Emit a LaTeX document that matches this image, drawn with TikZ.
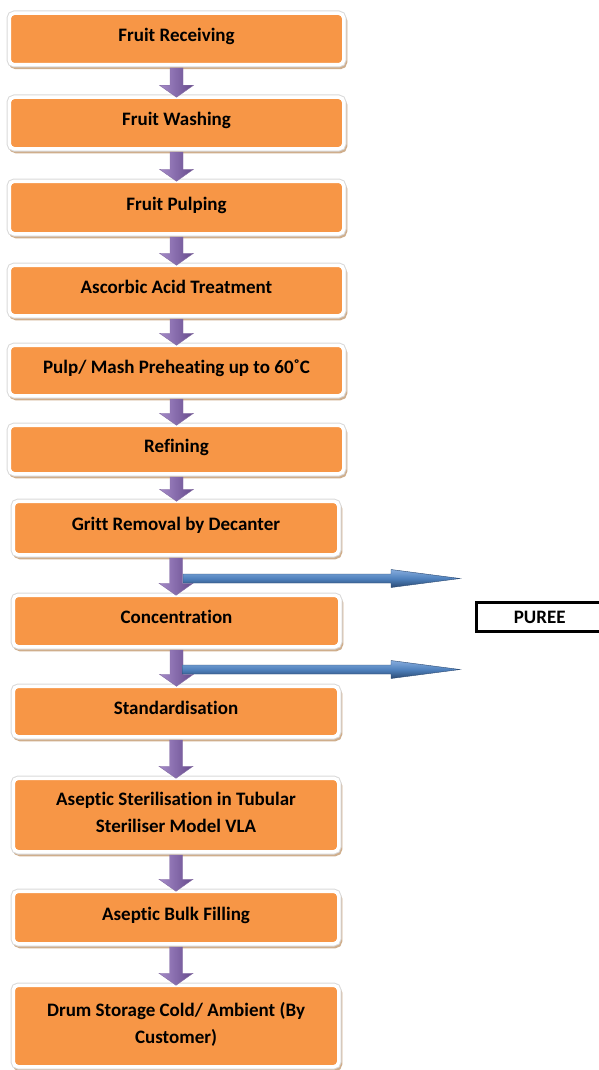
\documentclass[tikz,border=0pt]{standalone}
\usepackage{fontspec}
\setmainfont{Carlito}[Ligatures=CommonOff]
\usetikzlibrary{calc}

\definecolor{boxorange}{HTML}{F79646}
\definecolor{shadowtan}{HTML}{CFAE8C}
\definecolor{outlinegray}{HTML}{D9D9D9}
\definecolor{purpleL}{HTML}{A58BC9}
\definecolor{purpleD}{HTML}{664A8C}
\definecolor{blueL}{HTML}{86ACDD}
\definecolor{blueM}{HTML}{4F81BD}
\definecolor{blueD}{HTML}{2B4A73}

\tikzset{
  stepbox/.style={rectangle, rounded corners=5pt, fill=boxorange, draw=white,
    line width=3.5pt, inner sep=0pt, align=center,
    text height=12pt, text depth=7pt,
    font=\bfseries\fontsize{19}{27}\selectfont,
    preaction={draw=shadowtan, fill=shadowtan, line width=4pt,
      transform canvas={xshift=1.5pt,yshift=-2.5pt}},
    preaction={draw=outlinegray, line width=5.5pt}},
  twoline/.style={text height=42.5pt, text depth=7pt},
  flowarrowstyle/.style={left color=purpleL, right color=purpleD, draw=purpleD!80, line width=0.4pt},
  sidearrowstyle/.style={top color=blueL, bottom color=blueD, middle color=blueM, draw=blueD, line width=0.4pt},
  labelbox/.style={rectangle, draw=black, line width=3pt, fill=white, inner sep=0pt,
    font=\bfseries\fontsize{19}{23}\selectfont},
}

% block arrow between two process boxes
\newcommand{\flowarrow}[2]{%
  \path[flowarrowstyle] let \p1=(#1.south), \p2=(#2.north) in
    (\x1-6.5pt,\y1-1.5pt) -- (\x1+6.5pt,\y1-1.5pt) -- (\x1+6.5pt,\y2+10.25pt)
    -- (\x1+17pt,\y2+10.25pt) -- (\x1,\y2-1.75pt) -- (\x1-17pt,\y2+10.25pt)
    -- (\x1-6.5pt,\y2+10.25pt) -- cycle;}

% long horizontal arrow branching off to the right
\newcommand{\sidearrow}[2]{%
  \path[sidearrowstyle] let \p1=(#1), \p2=(#2) in
    (\x1,\y1+4.5pt) -- (\x2-69pt,\y1+4.5pt) -- (\x2-69pt,\y1+9pt) -- (\x2,\y1)
    -- (\x2-69pt,\y1-9pt) -- (\x2-69pt,\y1-4.5pt) -- (\x1,\y1-4.5pt) -- cycle;}

\begin{document}
\begin{tikzpicture}[x=1pt,y=-1pt]
\useasboundingbox (0,0) rectangle (599,1070);

\node[stepbox, minimum width=334.5pt, minimum height=51.5pt] (n1) at (176.5,39) {Fruit Receiving};
\node[stepbox, minimum width=334.5pt, minimum height=51.5pt] (n2) at (176.5,123) {Fruit Washing};
\node[stepbox, minimum width=334.5pt, minimum height=52.5pt] (n3) at (176.5,207.5) {Fruit Pulping};
\node[stepbox, minimum width=334.5pt, minimum height=50.5pt] (n4) at (176.5,290.5) {Ascorbic Acid Treatment};
\node[stepbox, minimum width=334.5pt, minimum height=50.5pt] (n5) at (176.5,370.5) {Pulp/ Mash Preheating up to 60˚C};
\node[stepbox, minimum width=334.5pt, minimum height=48.5pt] (n6) at (176.5,449.5) {Refining};
\node[stepbox, minimum width=325.5pt, minimum height=53.5pt] (n7) at (176,528) {Gritt Removal by Decanter};
\node[stepbox, minimum width=326.5pt, minimum height=51.5pt] (n8) at (176.5,621) {Concentration};
\node[stepbox, minimum width=325.5pt, minimum height=50.5pt] (n9) at (176,711.5) {Standardisation};
\node[stepbox, twoline, minimum width=325.5pt, minimum height=73.5pt] (n10) at (176,815) {Aseptic Sterilisation in Tubular\\Steriliser Model VLA};
\node[stepbox, minimum width=325.5pt, minimum height=52.5pt] (n11) at (176,917.5) {Aseptic Bulk Filling};
\node[stepbox, twoline, minimum width=325.5pt, minimum height=81.5pt] (n12) at (176,1026) {Drum Storage Cold/ Ambient (By\\Customer)};

\node[labelbox, minimum width=126.5pt, minimum height=29pt] (puree) at (539.75,617) {PUREE};

\foreach \a/\b in {n1/n2,n2/n3,n3/n4,n4/n5,n5/n6,n6/n7,n7/n8,n8/n9,n9/n10,n10/n11,n11/n12}
  {\flowarrow{\a}{\b}}

\coordinate (tap1) at ([xshift=6.5pt,yshift=15pt]n8.north);
\coordinate (tap2) at ([xshift=6.5pt,yshift=15pt]n9.north);
\coordinate (out1) at (460,580.5);
\coordinate (out2) at (460,673.5);
\sidearrow{tap1}{out1}
\sidearrow{tap2}{out2}
\end{tikzpicture}
\end{document}
